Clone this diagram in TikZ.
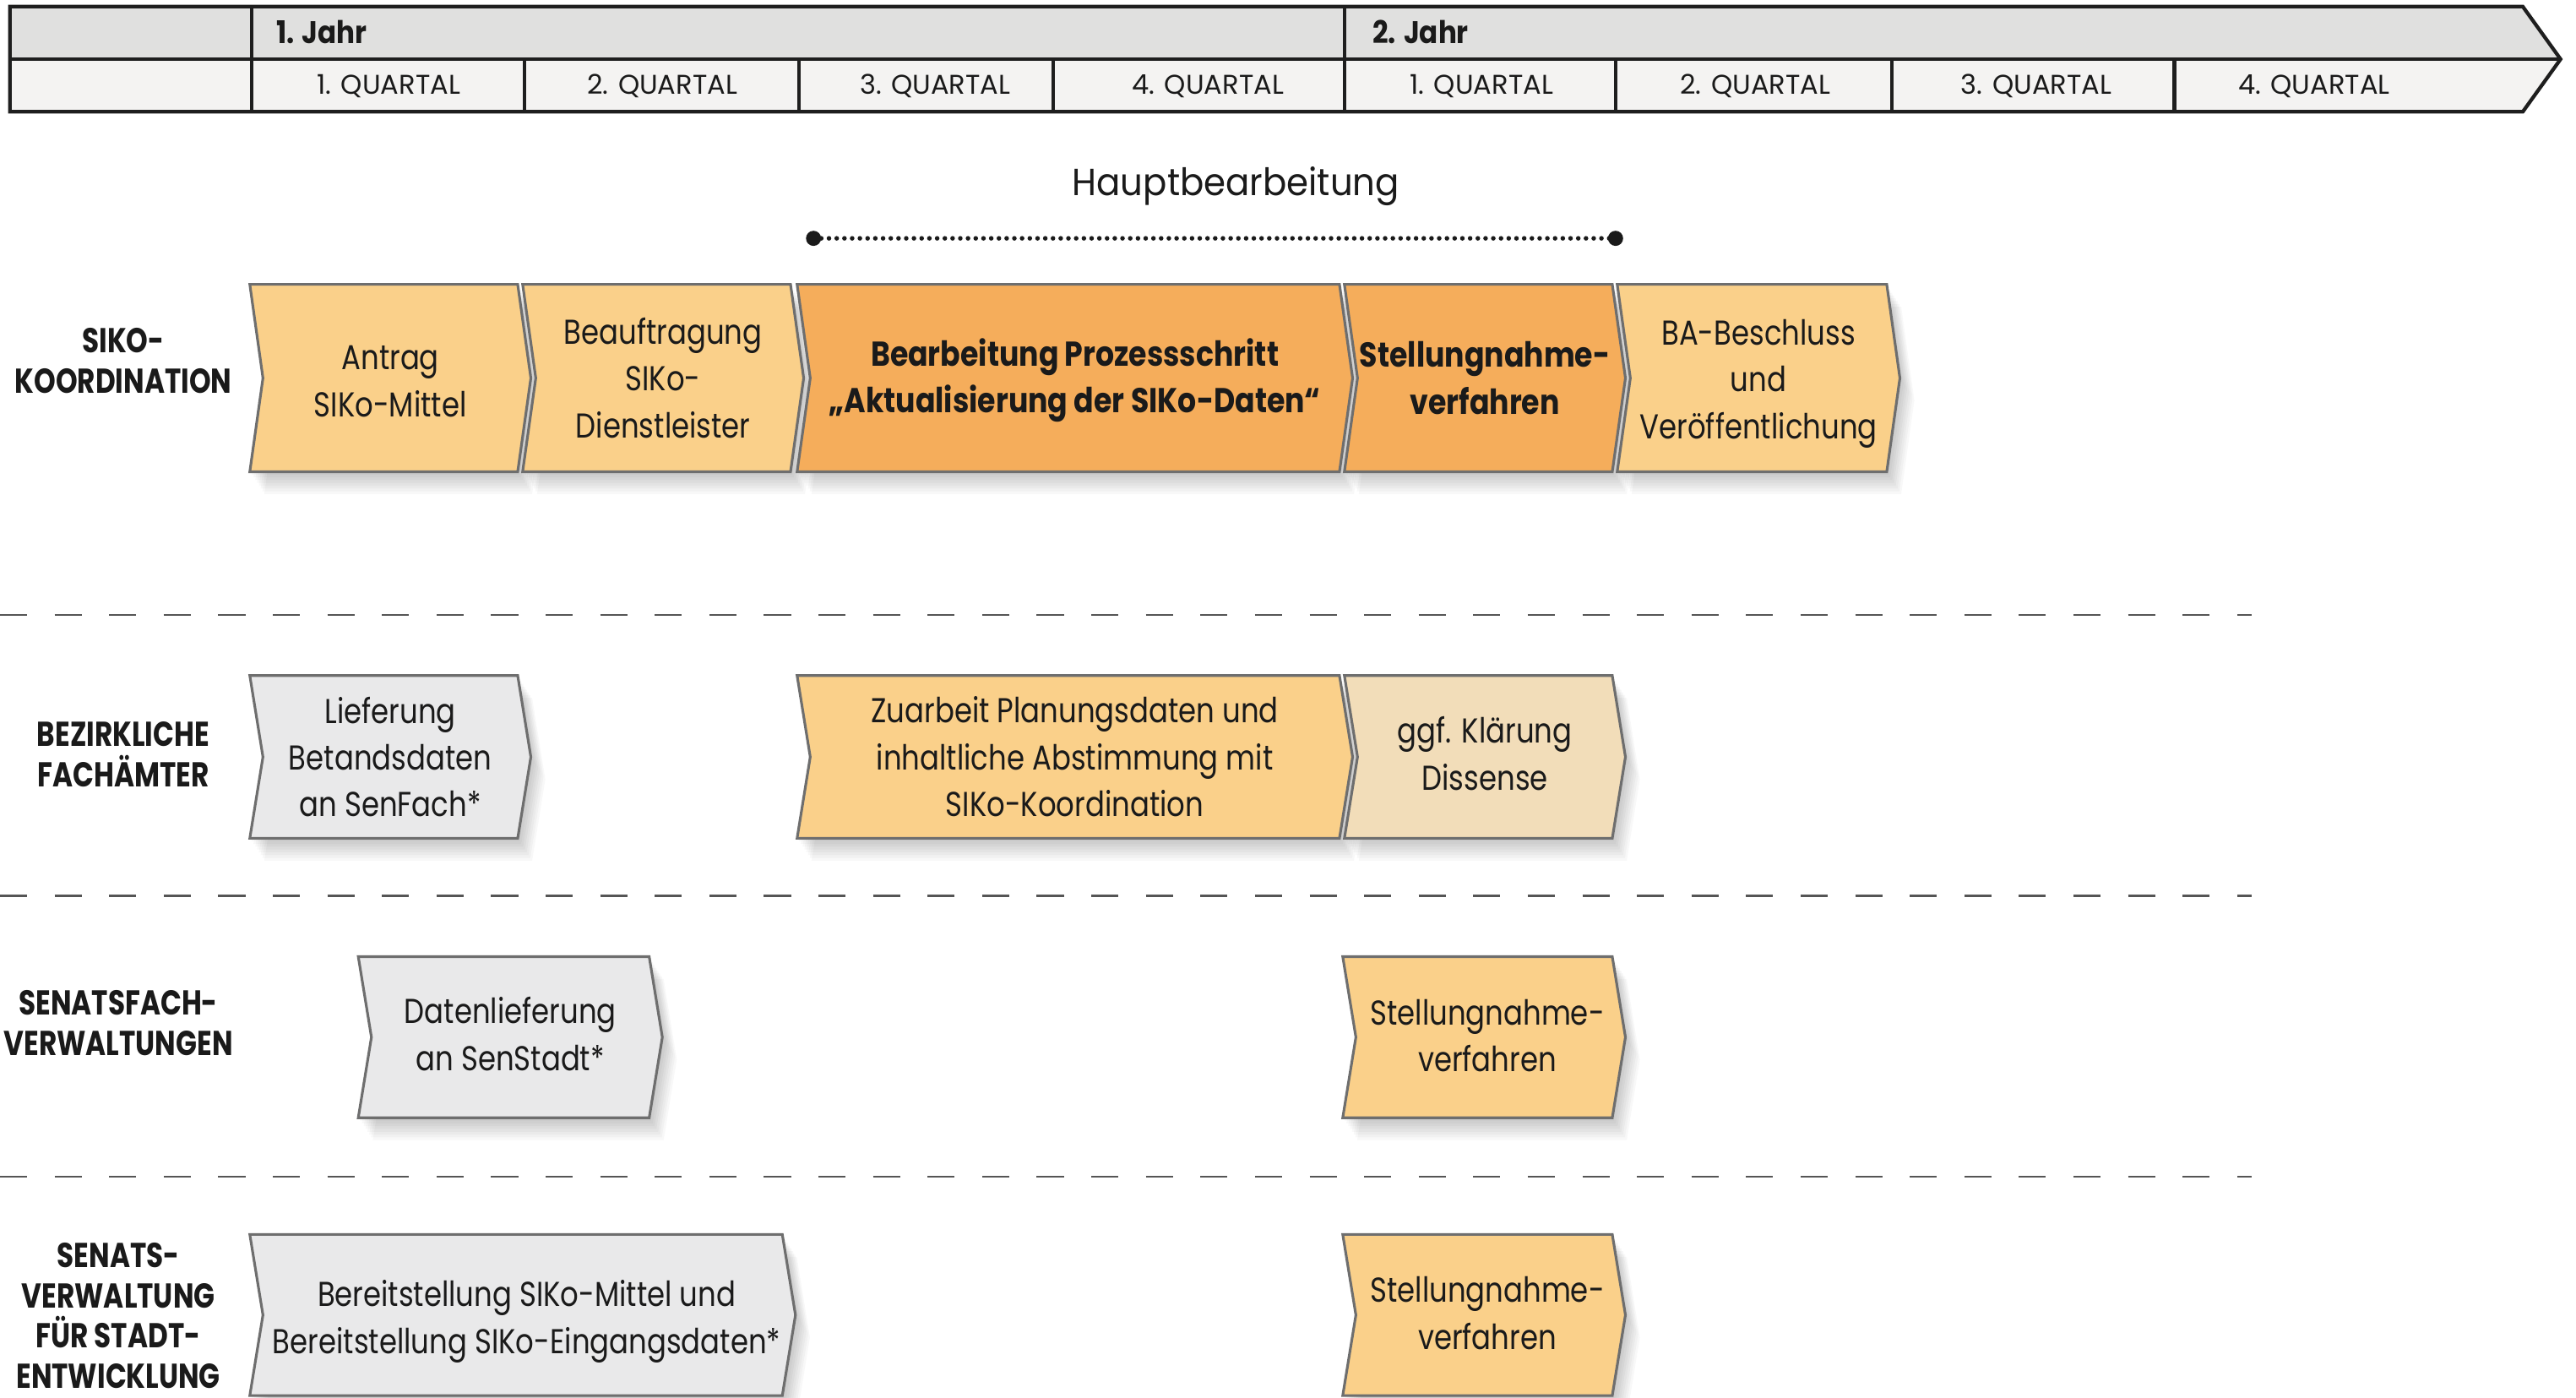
\documentclass[tikz,border=0pt]{standalone}
\usepackage{fontspec}
\setmainfont{Poppins}
\newfontfamily\BoxFont[FakeStretch=0.83]{Poppins}
\newfontfamily\BoldFont[FakeStretch=0.85]{Poppins}
\newfontfamily\LabFont[FakeStretch=0.80]{Poppins}
\newfontfamily\QFont[FakeStretch=1.0]{Poppins}
\newfontfamily\YFont[FakeStretch=0.88]{Poppins}
\newfontfamily\TFont[FakeStretch=0.935]{Poppins}
\definecolor{lor}{HTML}{FAD08A}
\definecolor{dor}{HTML}{F5AD5B}
\definecolor{beige}{HTML}{F2DDB9}
\definecolor{gbox}{HTML}{E9E9EA}
\definecolor{bline}{HTML}{6E6E6E}
\definecolor{hdtop}{HTML}{E0E0DF}
\definecolor{hdbot}{HTML}{F4F3F2}
\definecolor{hdk}{HTML}{1E1E1E}
\definecolor{txt}{HTML}{1A1A1A}
\definecolor{sepc}{HTML}{555555}
\tikzset{
 boxline/.style={draw=bline, line width=1.6pt, line join=miter},
 boxtxt/.style={align=center, text=txt, font=\BoxFont\fontsize{21}{28.5}\selectfont, inner sep=0pt},
 boxbold/.style={align=center, text=txt, font=\BoldFont\bfseries\fontsize{21}{28.5}\selectfont, inner sep=0pt},
 lab/.style={align=center, text=txt, font=\LabFont\bfseries\fontsize{21}{24.5}\selectfont, inner sep=0pt},
 qlab/.style={anchor=base, text=txt, font=\QFont\fontsize{16.5}{18}\selectfont, inner sep=0pt},
 ylab/.style={anchor=base west, text=txt, font=\YFont\bfseries\fontsize{19}{22}\selectfont, inner sep=0pt},
 ttl/.style={anchor=base, text=txt, font=\TFont\fontsize{23}{26}\selectfont, inner sep=0pt},
 hdline/.style={draw=hdk, line width=2.2pt, line join=miter},
 sepline/.style={draw=sepc, line width=1.1pt, dash pattern=on 16.5pt off 16.7pt},
 dotline/.style={draw=txt, line width=2.8pt, line cap=round, dash pattern=on 0pt off 4.7pt},
}
\def\dd{8}
% #1 name, #2 fill, #3 xL, #4 xR, #5 yT, #6 yB, #7 text style, #8 text
\newcommand\chevbox[8]{%
  \foreach \k in {1,...,8}{%
    \fill[black,opacity=0.028] ({#3+1.1*\k},{#5+1.7*\k}) -- ({#4+1.1*\k},{#5+1.7*\k}) -- ({#4+\dd+1.1*\k},{(#5+#6)/2+1.7*\k}) -- ({#4+1.1*\k},{#6+1.7*\k}) -- ({#3+1.1*\k},{#6+1.7*\k}) -- ({#3+\dd+1.1*\k},{(#5+#6)/2+1.7*\k}) -- cycle;
  }
  \filldraw[fill=#2, boxline] (#3,#5) -- (#4,#5) -- ({#4+\dd},{(#5+#6)/2}) -- (#4,#6) -- (#3,#6) -- ({#3+\dd},{(#5+#6)/2}) -- cycle;
  \node[#7] (#1) at ({(#3+#4+\dd)/2},{(#5+#6)/2}) {#8};
}
\begin{document}
\begin{tikzpicture}[x=1pt,y=-1pt]
\useasboundingbox (0,0) rectangle (1567.4,850);
\fill[white] (0,0) rectangle (1567.4,850);
% header
\fill[hdtop] (6,4) -- (1535,4) -- (1558,36) -- (6,36) -- cycle;
\fill[hdbot] (6,36) -- (1558,36) -- (1535,68) -- (6,68) -- cycle;
\draw[hdline] (6,36) -- (1558,36);
\foreach \x in {153,818}{\draw[hdline] (\x,4) -- (\x,68);}
\foreach \x in {319,486,641,983,1151,1323}{\draw[hdline] (\x,36) -- (\x,68);}
\draw[hdline] (6,4) -- (1535,4) -- (1558,36) -- (1535,68) -- (6,68) -- cycle;
\node[ylab] (jahr1) at (168,26.5) {1. Jahr};
\node[ylab] (jahr2) at (835,26.5) {2. Jahr};
\node[qlab] (q11) at (236.5,57.5) {1. QUARTAL};
\node[qlab] (q12) at (403,57.5) {2. QUARTAL};
\node[qlab] (q13) at (569,57.5) {3. QUARTAL};
\node[qlab] (q14) at (735,57.5) {4. QUARTAL};
\node[qlab] (q21) at (901.5,57.5) {1. QUARTAL};
\node[qlab] (q22) at (1068,57.5) {2. QUARTAL};
\node[qlab] (q23) at (1239,57.5) {3. QUARTAL};
\node[qlab] (q24) at (1408,57.5) {4. QUARTAL};
% Hauptbearbeitung
\node[ttl] (haupt) at (752,119) {Hauptbearbeitung};
\coordinate (hs) at (495,145);
\coordinate (he) at (983,145);
\draw[dotline] (hs) -- (he);
\fill[txt] (hs) circle (4.6);
\fill[txt] (he) circle (4.6);
% separators
\foreach \y in {374,545,716}{\draw[sepline] (0,\y) -- (1370,\y);}
% row labels
\node[lab] (l1) at (75,219.5) {SIKO-\\KOORDINATION};
\node[lab] (l2) at (75,459) {BEZIRKLICHE\\FACHÄMTER};
\node[lab] (l3) at (72,622.5) {SENATSFACH-\\VERWALTUNGEN};
\node[lab] (l4) at (72,800.5) {SENATS-\\VERWALTUNG\\FÜR STADT-\\ENTWICKLUNG};
% row 1
\chevbox{antrag}{lor}{152}{315}{173}{287}{boxtxt,yshift=-2pt}{Antrag\\SIKo-Mittel}
\chevbox{beauf}{lor}{318}{481}{173}{287}{boxtxt}{Beauftragung\\SIKo-\\Dienstleister}
\chevbox{bearb}{dor}{485}{815}{173}{287}{boxbold,yshift=-1.5pt}{Bearbeitung Prozessschritt\\„Aktualisierung der SIKo-Daten“}
\chevbox{stell1}{dor}{818}{981}{173}{287}{boxbold}{Stellungnahme-\\verfahren}
\chevbox{ba}{lor}{984}{1148}{173}{287}{boxtxt,yshift=-3.5pt}{BA-Beschluss\\und\\Veröffentlichung}
% row 2
\chevbox{liefer}{gbox}{152}{315}{411}{510}{boxtxt}{Lieferung\\Betandsdaten\\an SenFach*}
\chevbox{zuarb}{lor}{485}{815}{411}{510}{boxtxt}{Zuarbeit Planungsdaten und\\inhaltliche Abstimmung mit\\SIKo-Koordination}
\chevbox{klaer}{beige}{818}{981}{411}{510}{boxtxt,yshift=2pt}{ggf. Klärung\\Dissense}
% row 3
\chevbox{daten}{gbox}{218}{395}{582}{680}{boxtxt,yshift=2pt}{Datenlieferung\\an SenStadt*}
\chevbox{stell2}{lor}{817}{981}{582}{680}{boxtxt,yshift=1pt,xshift=2pt}{Stellungnahme-\\verfahren}
% row 4
\chevbox{bereit}{gbox}{152}{476}{751}{849}{boxtxt,yshift=-4pt,xshift=2.5pt}{Bereitstellung SIKo-Mittel und\\Bereitstellung SIKo-Eingangsdaten*}
\chevbox{stell3}{lor}{817}{981}{751}{849}{boxtxt,yshift=1pt,xshift=2pt}{Stellungnahme-\\verfahren}
\end{tikzpicture}
\end{document}
